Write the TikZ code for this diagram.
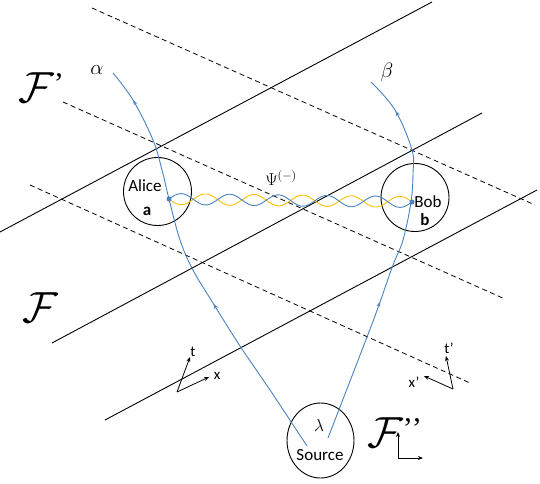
\documentclass[tikz,border=0pt]{standalone}
\usepackage{graphicx}
\usepackage{fontspec}
\setmainfont{Carlito}
\newfontfamily\primefont{Liberation Serif}
\usetikzlibrary{decorations.markings,arrows.meta,shapes.geometric}
\definecolor{wblue}{RGB}{74,130,190}
\definecolor{wgold}{RGB}{255,192,0}
\newcommand{\bigF}{\scalebox{1.75}{\fontsize{24.88}{24.88}\selectfont$\mathcal{F}$}}
\newcommand{\fprime}{\raisebox{9pt}{\primefont\fontsize{30}{30}\selectfont’}}
\begin{document}
\begin{tikzpicture}[x=1pt,y=-1pt,
  solidline/.style={line width=0.9pt},
  dashline/.style={line width=0.8pt, dash pattern=on 5pt off 3.5pt},
  world/.style={wblue, line width=0.9pt},
  arrowat/.style={postaction={decorate, decoration={markings,
      mark=at position #1 with {\arrow{Stealth[length=5pt,width=4pt]}}}}},
  axis/.style={-{Stealth[length=5pt,width=4pt]}, line width=0.8pt},
  lbl/.style={font=\fontsize{17}{17}\selectfont, inner sep=0pt},
  albl/.style={font=\fontsize{15}{15}\selectfont, inner sep=0pt},
  mlbl/.style={font=\fontsize{17}{17}\selectfont, inner sep=0pt},
  glbl/.style={font=\fontsize{20.74}{20.74}\selectfont, inner sep=0pt},
  frame/.style={inner sep=0pt, anchor=base west},
  party/.style={draw, circle, line width=0.9pt, minimum size=68pt, inner sep=0pt},
  dot/.style={circle, fill=wblue, inner sep=0pt, minimum size=5pt}
]
\useasboundingbox (0,0) rectangle (540,483);

% solid simultaneity lines
\draw[solidline] (0,232) -- (432,2);
\draw[solidline] (52,343) -- (482,113);
\draw[solidline] (105,420) -- (537,190);
% dashed simultaneity lines
\draw[dashline] (92,8) -- (535,205);
\draw[dashline] (63,102) -- (505,299);
\draw[dashline] (30,185) -- (470,383);

% circles
\node[party] (alice) at (157.5,191.5) {};
\node[party] (bob) at (415,197.5) {};
\node[draw, ellipse, line width=0.9pt, minimum width=67pt, minimum height=75pt, inner sep=0pt] (source) at (320.5,440.5) {};

% world lines
\draw[world, arrowat=0.40, arrowat=0.92] plot[smooth, tension=0.6] coordinates {
 (307,446) (270,390) (240,346) (213,303) (193,270) (180,240) (169,199)
 (162,170) (153,140) (133,100) (113,73)};
\draw[world, arrowat=0.38, arrowat=0.90] plot[smooth, tension=0.6] coordinates {
 (328,438) (367,337) (380,302) (393,265) (403,240) (411,202)
 (413,173) (412,150) (395,110) (371,82)};

% entangled waves
\draw[wgold, line width=0.9pt] plot[domain=0:243, samples=240, smooth]
  ({169+\x}, {199+0.0123*\x + 5.5*sin(7.4074*\x)});
\draw[wblue, line width=0.9pt] plot[domain=0:243, samples=240, smooth]
  ({169+\x}, {199+0.0123*\x - 5.5*sin(7.4074*\x)});

\node[dot] (adot) at (169,199) {};
\node[dot] (bdot) at (412,202) {};

% texts
\node[lbl] (alicet) at (145,186) {Alice};
\node[lbl] (alicea) at (147,211) {\textbf{a}};
\node[lbl] (bobt) at (428,202) {Bob};
\node[lbl] (bobb) at (425,220) {\textbf{b}};
\node[mlbl] (lam) at (319,425) {$\lambda$};
\node[lbl] (srct) at (320,455) {Source};
\node[mlbl] (psi) at (281,178) {$\Psi^{(-)}$};
\node[glbl] (alph) at (97,70) {$\alpha$};
\node[glbl] (bet) at (387,72) {$\beta$};

\node[frame] (Fp) at (18,102) {\bigF\fprime};
\node[frame] (F) at (22,322) {\bigF};
\node[frame] (Fpp) at (367,447) {\bigF\fprime\kern-1pt\fprime};

% axes
\coordinate (o1) at (177,392);
\coordinate (t1) at (190,357);
\coordinate (x1) at (209,377);
\draw[axis] (o1) -- (t1);
\draw[axis] (o1) -- (x1);
\node[albl] (t1l) at (193,352) {t};
\node[albl] (x1l) at (217,376) {x};

\coordinate (o2) at (453,389);
\coordinate (t2) at (446,356);
\coordinate (x2) at (424,376);
\draw[axis] (o2) -- (t2);
\draw[axis] (o2) -- (x2);
\node[albl] (t2l) at (449,348) {t’};
\node[albl] (x2l) at (414,382) {x’};

\coordinate (o3) at (398,458);
\coordinate (t3) at (398,432);
\coordinate (x3) at (423,458);
\draw[axis] (o3) -- (t3);
\draw[axis] (o3) -- (x3);
\end{tikzpicture}
\end{document}
